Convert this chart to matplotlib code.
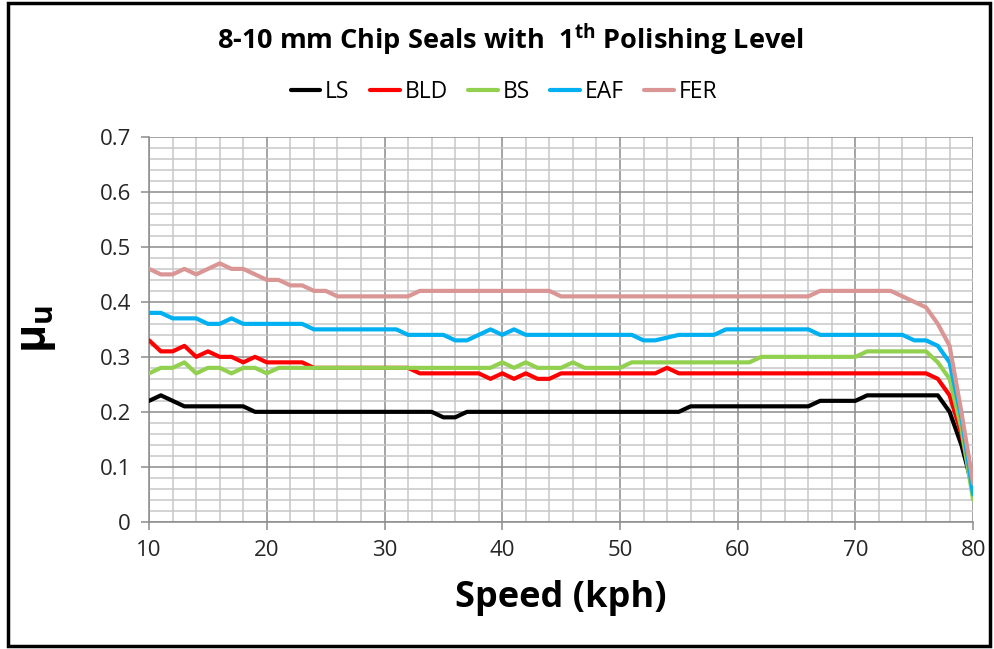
import matplotlib
matplotlib.use('Agg')
import matplotlib.pyplot as plt
from matplotlib.patches import Rectangle
from matplotlib.ticker import MultipleLocator, FuncFormatter

plt.rcParams['font.family'] = ['Open Sans', 'DejaVu Sans']
plt.rcParams['mathtext.fontset'] = 'custom'
plt.rcParams['mathtext.rm'] = 'Open Sans'
plt.rcParams['mathtext.bf'] = 'Open Sans:bold'

# speed in kph, one reading per kph
speed = list(range(10, 81))

LS = [0.22, 0.23, 0.22, 0.21, 0.21, 0.21, 0.21, 0.21, 0.21, 0.20,
      0.20, 0.20, 0.20, 0.20, 0.20, 0.20, 0.20, 0.20, 0.20, 0.20,
      0.20, 0.20, 0.20, 0.20, 0.20, 0.19, 0.19, 0.20, 0.20, 0.20,
      0.20, 0.20, 0.20, 0.20, 0.20, 0.20, 0.20, 0.20, 0.20, 0.20,
      0.20, 0.20, 0.20, 0.20, 0.20, 0.20, 0.21, 0.21, 0.21, 0.21,
      0.21, 0.21, 0.21, 0.21, 0.21, 0.21, 0.21, 0.22, 0.22, 0.22,
      0.22, 0.23, 0.23, 0.23, 0.23, 0.23, 0.23, 0.23, 0.20, 0.14,
      0.06]
BLD = [0.33, 0.31, 0.31, 0.32, 0.30, 0.31, 0.30, 0.30, 0.29, 0.30,
       0.29, 0.29, 0.29, 0.29, 0.28, 0.28, 0.28, 0.28, 0.28, 0.28,
       0.28, 0.28, 0.28, 0.27, 0.27, 0.27, 0.27, 0.27, 0.27, 0.26,
       0.27, 0.26, 0.27, 0.26, 0.26, 0.27, 0.27, 0.27, 0.27, 0.27,
       0.27, 0.27, 0.27, 0.27, 0.28, 0.27, 0.27, 0.27, 0.27, 0.27,
       0.27, 0.27, 0.27, 0.27, 0.27, 0.27, 0.27, 0.27, 0.27, 0.27,
       0.27, 0.27, 0.27, 0.27, 0.27, 0.27, 0.27, 0.26, 0.23, 0.16,
       0.06]
BS = [0.27, 0.28, 0.28, 0.29, 0.27, 0.28, 0.28, 0.27, 0.28, 0.28,
      0.27, 0.28, 0.28, 0.28, 0.28, 0.28, 0.28, 0.28, 0.28, 0.28,
      0.28, 0.28, 0.28, 0.28, 0.28, 0.28, 0.28, 0.28, 0.28, 0.28,
      0.29, 0.28, 0.29, 0.28, 0.28, 0.28, 0.29, 0.28, 0.28, 0.28,
      0.28, 0.29, 0.29, 0.29, 0.29, 0.29, 0.29, 0.29, 0.29, 0.29,
      0.29, 0.29, 0.30, 0.30, 0.30, 0.30, 0.30, 0.30, 0.30, 0.30,
      0.30, 0.31, 0.31, 0.31, 0.31, 0.31, 0.31, 0.29, 0.26, 0.17,
      0.04]
EAF = [0.38, 0.38, 0.37, 0.37, 0.37, 0.36, 0.36, 0.37, 0.36, 0.36,
       0.36, 0.36, 0.36, 0.36, 0.35, 0.35, 0.35, 0.35, 0.35, 0.35,
       0.35, 0.35, 0.34, 0.34, 0.34, 0.34, 0.33, 0.33, 0.34, 0.35,
       0.34, 0.35, 0.34, 0.34, 0.34, 0.34, 0.34, 0.34, 0.34, 0.34,
       0.34, 0.34, 0.33, 0.33, 0.335, 0.34, 0.34, 0.34, 0.34, 0.35,
       0.35, 0.35, 0.35, 0.35, 0.35, 0.35, 0.35, 0.34, 0.34, 0.34,
       0.34, 0.34, 0.34, 0.34, 0.34, 0.33, 0.33, 0.32, 0.29, 0.19,
       0.05]
FER = [0.46, 0.45, 0.45, 0.46, 0.45, 0.46, 0.47, 0.46, 0.46, 0.45,
       0.44, 0.44, 0.43, 0.43, 0.42, 0.42, 0.41, 0.41, 0.41, 0.41,
       0.41, 0.41, 0.41, 0.42, 0.42, 0.42, 0.42, 0.42, 0.42, 0.42,
       0.42, 0.42, 0.42, 0.42, 0.42, 0.41, 0.41, 0.41, 0.41, 0.41,
       0.41, 0.41, 0.41, 0.41, 0.41, 0.41, 0.41, 0.41, 0.41, 0.41,
       0.41, 0.41, 0.41, 0.41, 0.41, 0.41, 0.41, 0.42, 0.42, 0.42,
       0.42, 0.42, 0.42, 0.42, 0.41, 0.40, 0.39, 0.36, 0.32, 0.20,
       0.07]

series = [('LS', LS, '#000000'),
          ('BLD', BLD, '#ff0000'),
          ('BS', BS, '#92d050'),
          ('EAF', EAF, '#00b0f0'),
          ('FER', FER, '#d99694')]

fig = plt.figure(figsize=(9.94, 6.49), dpi=100)
ax = fig.add_axes([0.150, 0.196, 0.829, 0.593])

for name, vals, col in series:
    ax.plot(speed, vals, color=col, lw=3.0, label=name,
            solid_joinstyle='round', solid_capstyle='round', zorder=3)

ax.set_xlim(10, 80)
ax.set_ylim(0, 0.7)
ax.xaxis.set_major_locator(MultipleLocator(10))
ax.xaxis.set_minor_locator(MultipleLocator(2))
ax.yaxis.set_major_locator(MultipleLocator(0.1))
ax.yaxis.set_minor_locator(MultipleLocator(0.02))
ax.yaxis.set_major_formatter(FuncFormatter(lambda v, p: '0' if abs(v) < 1e-9 else '%.1f' % v))

ax.grid(which='major', color='#8c8c8c', lw=1.1)
ax.grid(which='minor', color='#c8c8c8', lw=1.1)
ax.set_axisbelow(True)

for s in ['top', 'right']:
    ax.spines[s].set_visible(False)
for s in ['left', 'bottom']:
    ax.spines[s].set_color('#8c8c8c')
    ax.spines[s].set_linewidth(1.1)

ax.tick_params(which='major', length=6, width=1.1, color='#8c8c8c',
               labelsize=16, labelcolor='#262626', pad=7)
ax.tick_params(which='minor', length=0)

ax.set_xlabel('Speed (kph)', fontsize=26, fontweight='bold', labelpad=14)
ax.set_ylabel(r'$\mathbf{\mu_u}$', fontsize=31, labelpad=30)

fig.text(0.514, 0.938, r'8-10 mm Chip Seals with  1$^{\mathbf{th}}$ Polishing Level',
         ha='center', va='center', fontsize=19.5, fontweight='bold')

fig.legend(loc='center', bbox_to_anchor=(0.507, 0.858), ncol=5, frameon=False,
           fontsize=16.5, handlelength=1.3, handletextpad=0.2, columnspacing=0.9)

# outer frame
fig.patches.append(Rectangle((8 / 994, 3 / 649), 982 / 994, 643 / 649,
                             transform=fig.transFigure, fill=False,
                             edgecolor='black', lw=2.5))

fig.savefig('out.png', dpi=100)
